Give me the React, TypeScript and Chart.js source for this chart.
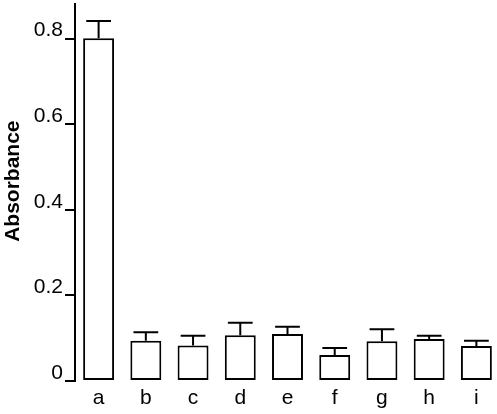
import React, { useEffect, useRef } from 'react';
import { Chart, registerables } from 'chart.js';

Chart.register(...registerables);

const categories = ['a', 'b', 'c', 'd', 'e', 'f', 'g', 'h', 'i'];
const means = [0.801, 0.094, 0.083, 0.107, 0.11, 0.061, 0.093, 0.098, 0.082];
const upperErrors = [0.841, 0.114, 0.106, 0.136, 0.127, 0.077, 0.121, 0.106, 0.094];
const yTicks = [0, 0.2, 0.4, 0.6, 0.8];
const yMax = 0.881;
const yTitle = 'Absorbance';

const FONT = 'Liberation Sans, Arial, Helvetica, sans-serif';

const errorBarPlugin = {
  id: 'errorBars',
  afterDatasetsDraw(chart: any) {
    const meta = chart.getDatasetMeta(0);
    const yScale = chart.scales.y;
    const ctx = chart.ctx;
    ctx.save();
    ctx.strokeStyle = '#000';
    ctx.lineWidth = 2;
    meta.data.forEach((bar: any, i: number) => {
      const x = bar.x;
      const yTop = yScale.getPixelForValue(upperErrors[i]);
      const yBar = bar.y;
      const half = bar.width * 0.4;
      ctx.beginPath();
      ctx.moveTo(x, yBar);
      ctx.lineTo(x, yTop);
      ctx.moveTo(x - half, yTop);
      ctx.lineTo(x + half, yTop);
      ctx.stroke();
    });
    ctx.restore();
  },
};

const axisTitlePlugin = {
  id: 'axisTitle',
  afterDraw(chart: any) {
    const ctx = chart.ctx;
    const yScale = chart.scales.y;
    const cy = yScale.getPixelForValue(0.467);
    ctx.save();
    ctx.translate(13.5, cy);
    ctx.rotate(-Math.PI / 2);
    ctx.fillStyle = '#000';
    ctx.font = `bold 21px ${FONT}`;
    ctx.textAlign = 'center';
    ctx.textBaseline = 'middle';
    ctx.fillText(yTitle, 0, 0);
    ctx.restore();
  },
};

export default function App() {
  const canvasRef = useRef<HTMLCanvasElement | null>(null);

  useEffect(() => {
    if (!canvasRef.current) return;
    const chart = new Chart(canvasRef.current, {
      type: 'bar',
      data: {
        labels: categories,
        datasets: [
          {
            data: means,
            backgroundColor: '#ffffff',
            borderColor: '#000000',
            borderWidth: 2,
            borderSkipped: false,
            barPercentage: 0.655,
            categoryPercentage: 1,
          },
        ],
      },
      options: {
        responsive: true,
        maintainAspectRatio: false,
        animation: false,
        layout: { padding: { top: 4, left: 0, right: 0, bottom: 0 } },
        plugins: {
          legend: { display: false },
          tooltip: { enabled: false },
        },
        scales: {
          x: {
            offset: true,
            grid: { display: false, drawTicks: false },
            border: { display: false },
            ticks: {
              color: '#000',
              font: { family: FONT, size: 21 },
              padding: 5,
              maxRotation: 0,
              autoSkip: false,
            },
            afterFit: (s: any) => {
              s.height = 33;
              s.paddingLeft = 0;
              s.paddingRight = 0;
            },
          },
          y: {
            min: 0,
            max: yMax,
            afterBuildTicks: (s: any) => {
              s.ticks = yTicks.map((v) => ({ value: v }));
            },
            grid: {
              drawOnChartArea: false,
              drawTicks: true,
              tickLength: 10,
              color: '#000',
              lineWidth: 2,
            },
            border: { display: true, color: '#000', width: 2 },
            ticks: {
              color: '#000',
              font: { family: FONT, size: 21 },
              padding: 2,
              labelOffset: -8,
              callback: (v: any) => (Number(v) === 0 ? '0' : Number(v).toFixed(1)),
            },
            title: { display: false },
            afterFit: (s: any) => {
              s.width = 75;
              s.paddingTop = 0;
              s.paddingBottom = 0;
            },
          },
        },
      },
      plugins: [errorBarPlugin, axisTitlePlugin],
    });
    return () => chart.destroy();
  }, []);

  return (
    <div
      style={{
        position: 'fixed',
        left: 0,
        top: 0,
        width: 497,
        height: 414,
        overflow: 'hidden',
        background: '#fff',
      }}
    >
      <div style={{ position: 'relative', width: 500, height: 414 }}>
        <canvas ref={canvasRef} />
      </div>
    </div>
  );
}
